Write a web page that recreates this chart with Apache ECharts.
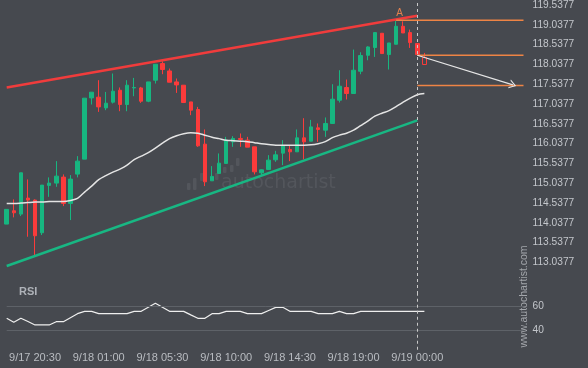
<!DOCTYPE html>
<html><head><meta charset="utf-8">
<script src="https://cdn.jsdelivr.net/npm/echarts@6/dist/echarts.min.js"></script>
<style>html,body{margin:0;padding:0;background:#46494f}#c{width:588px;height:368px}</style>
</head><body><div id="c"></div>
<script>
// ---- data ----
const tickIdx = [4, 13, 22, 31, 40, 49, 58];
const tickLabels = ['9/17 20:30', '9/18 01:00', '9/18 05:30', '9/18 10:00', '9/18 14:30', '9/18 19:00', '9/19 00:00'];
const slotCount = 74;
const categories = Array.from({length: slotCount}, (_, i) => {
  const k = tickIdx.indexOf(i);
  return k >= 0 ? tickLabels[k] : 's' + i;
});
const priceTicks = [113.0377, 113.5377, 114.0377, 114.5377, 115.0377, 115.5377, 116.0377, 116.5377,
  117.0377, 117.5377, 118.0377, 118.5377, 119.0377, 119.5377];
const rsiTicks = [40, 60];

const open = [114.004,114.340,114.256,114.660,114.610,113.785,114.981,115.039,115.190,114.526,
  115.266,115.644,117.191,117.209,116.939,117.083,117.385,117.024,117.443,117.443,
  117.108,117.638,118.059,117.872,117.595,117.512,117.090,116.898,116.023,115.097,
  115.283,115.536,116.081,116.167,116.124,115.955,115.299,115.384,115.627,115.796,
  115.889,115.829,116.182,116.098,116.434,116.376,116.545,117.133,117.454,117.302,
  117.865,118.268,118.463,118.824,118.286,118.546,119.000,118.841,118.564,118.210];
const high = [114.375,114.627,115.299,115.132,114.627,114.988,115.183,115.594,115.258,115.241,
  115.720,117.184,117.335,117.638,117.342,117.807,117.454,117.638,117.696,117.469,
  117.595,118.041,118.117,117.933,117.681,117.512,117.090,116.964,116.394,115.468,
  115.788,116.207,116.225,116.293,116.207,115.955,115.384,115.745,115.854,116.124,
  115.990,116.394,116.679,116.636,116.545,116.697,117.537,117.890,117.655,118.412,
  118.344,118.496,118.841,118.824,118.579,119.152,119.126,118.917,118.564,118.327];
const low = [114.004,114.173,114.206,113.684,113.197,113.727,114.693,114.945,114.458,114.105,
  115.183,115.644,117.024,116.838,116.881,117.050,116.855,116.855,117.234,117.065,
  117.083,117.554,117.789,117.587,117.317,117.075,116.755,115.955,114.963,115.097,
  115.283,115.536,115.955,115.955,115.947,115.258,115.241,115.384,115.576,115.493,
  115.594,115.829,115.637,116.098,116.081,116.207,116.545,117.075,117.151,117.302,
  117.789,118.142,118.226,118.311,117.908,118.546,118.831,118.453,118.286,118.034];
const close = [114.375,114.289,115.299,114.610,113.709,114.988,115.039,115.215,114.526,115.140,
  115.594,117.184,117.335,116.964,117.057,117.360,117.024,117.512,117.454,117.108,
  117.595,118.041,117.908,117.587,117.519,117.075,116.881,115.980,115.072,115.208,
  115.543,116.124,116.167,116.141,115.947,115.324,115.374,115.619,115.753,115.980,
  115.829,116.182,116.081,116.459,116.394,116.545,117.158,117.486,117.302,117.890,
  118.261,118.478,118.841,118.311,118.579,119.000,118.831,118.589,118.286,118.034];
const maLine = [114.526,114.526,114.534,114.547,114.559,114.559,114.572,114.577,114.577,114.602,
  114.653,114.812,114.963,115.127,115.228,115.316,115.392,115.493,115.632,115.720,
  115.808,115.922,116.048,116.162,116.237,116.288,116.313,116.300,116.250,116.199,
  116.162,116.124,116.111,116.098,116.086,116.061,116.035,116.015,115.998,115.998,
  115.998,115.998,115.998,116.005,116.035,116.086,116.187,116.250,116.300,116.376,
  116.490,116.603,116.729,116.805,116.868,116.969,117.083,117.184,117.272,117.302];
const rsi = [49.9,46.6,49.9,47.2,44.4,44.4,44.4,47.1,47.1,50.4,
  53.7,55.6,55.6,53.7,53.7,53.7,53.7,53.7,55.6,55.6,
  58.9,62.2,58.9,55.6,55.6,55.6,52.7,49.9,49.9,53.7,
  53.7,55.6,55.6,55.6,53.7,53.7,53.7,56.3,58.9,58.9,
  55.6,55.6,55.6,55.6,53.7,53.7,53.7,55.6,53.7,53.7,
  55.6,55.6,55.6,55.6,55.6,55.6,55.6,55.6,55.6,55.6];
const liveIndex = 59;          // hollow (forming) candle
const nowIndex = 58;           // dashed "now" line
const resistance = [[0, 117.453], [58, 119.268]];
const support = [[0, 112.944], [58, 116.623]];
const levelA = [[55, 119.152], [73, 119.152]];
const levelB = [[58, 118.2685], [73, 118.2685]];
const levelC = [[58, 117.504], [73, 117.504]];
const forecast = [[58, 118.2685], [71.5, 117.519]];

// ---- colors ----
const UP = '#17b680', DOWN = '#fb3b3b', ORANGE = '#ee8445', TXT = '#c3c6cb';
const FONT = '"Liberation Sans", Arial, sans-serif';

const candleData = open.map((o, i) => {
  const v = [o, close[i], low[i], high[i]];
  if (i === liveIndex) return {value: v, itemStyle: {color0: 'rgba(0,0,0,0)', borderColor0: DOWN, color: 'rgba(0,0,0,0)'}};
  return v;
});

const chevron = 'path://M0,10 L5,0 L10,10 L8.6,10 L5,2.8 L1.4,10 Z';

const chart = echarts.init(document.getElementById('c'), null, {renderer: 'canvas'});
const gridL = 6.7, gridR = 64.5;
chart.setOption({
  animation: false,
  backgroundColor: '#46494f',
  textStyle: {fontFamily: FONT},
  title: {text: 'RSI', left: 14, top: 281, textStyle: {color: '#aeb2b8', fontSize: 11, fontWeight: 'bold', fontFamily: FONT}},
  grid: [
    {left: gridL, right: gridR, top: 0, height: 294},
    {left: gridL, right: gridR, top: 293.85, height: 55.9}
  ],
  xAxis: [
    {type: 'category', gridIndex: 0, data: categories, boundaryGap: false, show: false},
    {type: 'category', gridIndex: 1, data: categories, boundaryGap: false,
      axisLine: {show: false}, axisTick: {show: false}, splitLine: {show: false},
      axisLabel: {interval: (i) => tickIdx.includes(i), color: '#b9bcc1', fontSize: 11, margin: 2.5, fontFamily: FONT}},
    {type: 'value', gridIndex: 0, min: 0, max: slotCount - 1, show: false}
  ],
  yAxis: [
    {type: 'value', gridIndex: 0, position: 'right', min: 112.2377, max: 119.6563, scale: true,
      axisLine: {show: false}, axisTick: {show: false}, splitLine: {show: false},
      axisLabel: {customValues: priceTicks, formatter: (v) => v.toFixed(4), color: TXT, fontSize: 10.2, margin: 9, fontFamily: FONT}},
    {type: 'value', gridIndex: 1, position: 'right', min: 24, max: 70,
      axisLine: {show: false}, axisTick: {show: false}, splitLine: {show: false},
      axisLabel: {customValues: rsiTicks, color: TXT, fontSize: 10.2, margin: 9, fontFamily: FONT}}
  ],
  graphic: [
    {type: 'text', z: -10, left: 221, top: 174, style: {text: 'autochartist', fill: '#53565c', font: '19px "DejaVu Sans", sans-serif'}},
    {type: 'rect', z: -10, shape: {x: 187, y: 183, width: 3.5, height: 7, r: 1}, style: {fill: '#53565c'}},
    {type: 'rect', z: -10, shape: {x: 193, y: 178, width: 3.5, height: 12, r: 1}, style: {fill: '#53565c'}},
    {type: 'rect', z: -10, shape: {x: 200, y: 173, width: 3.5, height: 8, r: 1}, style: {fill: '#53565c'}},
    {type: 'rect', z: -10, shape: {x: 215, y: 173, width: 3.5, height: 7, r: 1}, style: {fill: '#53565c'}},
    {type: 'rect', z: -10, shape: {x: 223, y: 167, width: 3.5, height: 6, r: 1}, style: {fill: '#53565c'}},
    {type: 'rect', z: -10, shape: {x: 230, y: 165, width: 3.5, height: 7, r: 1}, style: {fill: '#53565c'}},
    {type: 'rect', z: -10, shape: {x: 236, y: 158, width: 3.5, height: 8, r: 1}, style: {fill: '#53565c'}},
    {type: 'text', z: 5, x: 524, y: 296.5, rotation: Math.PI / 2,
      style: {text: 'www.autochartist.com', fill: '#a3a6ab', font: '10.5px ' + FONT, align: 'center', verticalAlign: 'middle'}}
  ],
  series: [
    {type: 'candlestick', xAxisIndex: 0, yAxisIndex: 0, data: candleData, barWidth: 4, clip: true,
      itemStyle: {color: UP, color0: DOWN, borderColor: UP, borderColor0: DOWN, borderWidth: 1},
      markLine: {silent: true, symbol: 'none', label: {show: false},
        lineStyle: {color: '#c9c9c9', type: [3, 3], width: 1},
        data: [{xAxis: categories[nowIndex]}]}},
    {type: 'line', xAxisIndex: 0, yAxisIndex: 0, data: maLine, showSymbol: false, smooth: 0.3,
      lineStyle: {color: '#e4e4e4', width: 1.5}},
    {type: 'line', xAxisIndex: 2, yAxisIndex: 0, data: resistance, showSymbol: false, lineStyle: {color: '#f03c3c', width: 2.5}},
    {type: 'line', xAxisIndex: 2, yAxisIndex: 0, data: support, showSymbol: false, lineStyle: {color: '#18b783', width: 2.5}},
    {type: 'line', xAxisIndex: 2, yAxisIndex: 0, data: levelA, showSymbol: false, lineStyle: {color: ORANGE, width: 1.3},
      markPoint: {silent: true, symbol: 'circle', symbolSize: 1, itemStyle: {color: 'rgba(0,0,0,0)'},
        label: {show: true, formatter: 'A', position: 'top', distance: 2, offset: [3.5, 0], color: '#e3814f', fontSize: 10, fontFamily: FONT},
        data: [{coord: levelA[0]}]}},
    {type: 'line', xAxisIndex: 2, yAxisIndex: 0, data: levelB, showSymbol: false, lineStyle: {color: ORANGE, width: 1.3}},
    {type: 'line', xAxisIndex: 2, yAxisIndex: 0, data: levelC, showSymbol: false, lineStyle: {color: ORANGE, width: 1.3},
      markLine: {silent: true, symbol: ['none', chevron], symbolSize: [9, 7], label: {show: false},
        lineStyle: {color: '#e6e6e6', width: 1.2, type: 'solid'},
        data: [[{coord: forecast[0]}, {coord: forecast[1]}]]}},
    {type: 'line', xAxisIndex: 1, yAxisIndex: 1, data: rsi, showSymbol: false, lineStyle: {color: '#eeeeee', width: 1.2},
      markLine: {silent: true, symbol: 'none', label: {show: false},
        data: [
          {yAxis: 60, lineStyle: {color: '#5e6268', width: 1, type: 'solid'}},
          {yAxis: 40, lineStyle: {color: '#5e6268', width: 1, type: 'solid'}},
          {xAxis: categories[nowIndex], lineStyle: {color: '#c9c9c9', width: 1, type: [3, 3]}}
        ]}}
  ]
});
</script></body></html>
